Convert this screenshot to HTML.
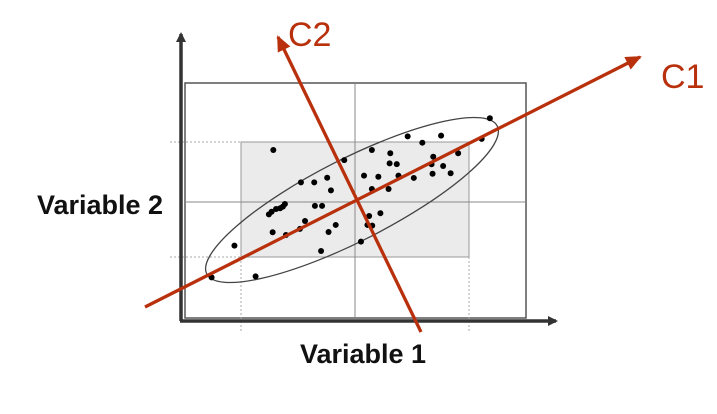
<!DOCTYPE html>
<html><head><meta charset="utf-8"><style>
html,body{margin:0;padding:0;background:#fff;}
svg{display:block;}
</style></head><body>
<svg id="chart" width="717" height="414" viewBox="0 0 717 414" xmlns="http://www.w3.org/2000/svg">
<defs>
<marker id="arrK" markerWidth="10" markerHeight="10" refX="8" refY="5" orient="auto" markerUnits="userSpaceOnUse"><path d="M0,0 L10,5 L0,10 z" fill="#333"/></marker>
<marker id="arrR" markerWidth="16" markerHeight="14" refX="14" refY="7" orient="auto" markerUnits="userSpaceOnUse"><path d="M0,0 L16,7 L0,14 z" fill="#b8300c"/></marker>
</defs>
<rect x="241" y="142" width="228" height="115" fill="#ebebeb" stroke="#999" stroke-width="1"/>
<rect x="185" y="83" width="341" height="235" fill="none" stroke="#555" stroke-width="1.5"/>
<line x1="355" y1="83" x2="355" y2="318" stroke="#888" stroke-width="1"/>
<line x1="185" y1="202" x2="526" y2="202" stroke="#888" stroke-width="1"/>
<g stroke="#aaa" stroke-dasharray="2,2" stroke-width="1">
<line x1="170" y1="142" x2="241" y2="142"/><line x1="170" y1="257" x2="241" y2="257"/>
<line x1="241" y1="257" x2="241" y2="333"/><line x1="469" y1="257" x2="469" y2="333"/>
</g>
<line x1="181" y1="321" x2="181" y2="34" stroke="#333" stroke-width="3.5" marker-end="url(#arrK)"/>
<line x1="180" y1="321" x2="556" y2="321" stroke="#333" stroke-width="3.5" marker-end="url(#arrK)"/>
<ellipse cx="352" cy="200" rx="163" ry="41" transform="rotate(-27 352 200)" fill="none" stroke="#444" stroke-width="1.3"/>
<g id="dots"></g>
<line x1="145" y1="307" x2="640" y2="57" stroke="#b8300c" stroke-width="3.3" marker-end="url(#arrR)"/>
<line x1="421" y1="332" x2="278" y2="37" stroke="#b8300c" stroke-width="3.3" marker-end="url(#arrR)"/>
<text x="661" y="88" font-family="Liberation Sans, sans-serif" font-size="34" fill="#b8300c">C1</text>
<text x="288" y="46" font-family="Liberation Sans, sans-serif" font-size="34" fill="#b8300c">C2</text>
<text x="100" y="214" text-anchor="middle" font-family="Liberation Sans, sans-serif" font-weight="bold" font-size="27" fill="#111">Variable 2</text>
<text x="363" y="363" text-anchor="middle" font-family="Liberation Sans, sans-serif" font-weight="bold" font-size="27" fill="#111">Variable 1</text>
</svg>
<script>
const var1Values=[89.4,87.0,80.1,75.1,65.3,69.6,54.8,60.2,60.0,62.1,72.8,72.3,75.7,72.6,77.9,67.1,62.6,56.7,52.5,54.8,59.7,46.7,41.7,42.8,37.9,34.0,25.9,38.1,40.2,29.3,28.7,27.9,26.7,25.4,24.6,35.2,33.7,44.2,42.1,29.6,25.7,54.0,57.3,53.5,54.9,51.6,39.9,14.5,20.7,7.8];
const var2Values=[85.0,76.2,70.1,77.6,77.3,74.6,71.5,70.1,65.8,65.5,68.6,65.4,64.7,61.4,61.6,59.6,60.6,60.1,60.6,54.9,54.9,67.2,59.7,54.3,57.7,57.7,71.5,47.7,47.7,48.5,47.4,46.7,46.4,45.2,44.1,41.3,37.9,39.6,36.6,35.3,36.5,43.4,44.6,39.6,39.3,32.5,28.5,30.8,17.7,17.3];
function xScale(v){return 185+v*3.41;}
function yScale(v){return 318-v*2.35;}
const g=document.getElementById('dots');
for(let i=0;i<var1Values.length;i++){
  const c=document.createElementNS('http://www.w3.org/2000/svg','circle');
  c.setAttribute('cx',xScale(var1Values[i]));
  c.setAttribute('cy',yScale(var2Values[i]));
  c.setAttribute('r','3');
  c.setAttribute('fill','#000');
  
  
  g.appendChild(c);
}
</script>
</body></html>
